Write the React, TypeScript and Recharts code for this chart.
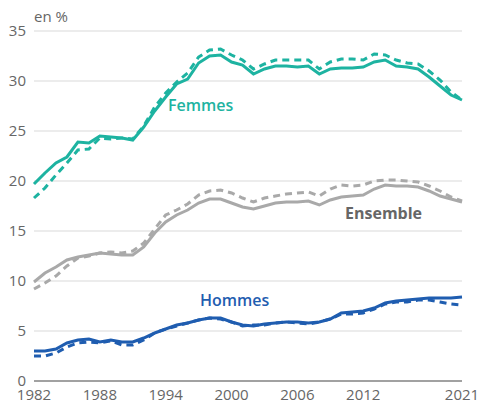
import React from "react";
import { LineChart, Line, XAxis, YAxis, CartesianGrid, Customized } from "recharts";

const years = [
  1982, 1983, 1984, 1985, 1986, 1987, 1988, 1989, 1990, 1991, 1992, 1993, 1994,
  1995, 1996, 1997, 1998, 1999, 2000, 2001, 2002, 2003, 2004, 2005, 2006, 2007,
  2008, 2009, 2010, 2011, 2012, 2013, 2014, 2015, 2016, 2017, 2018, 2019, 2020, 2021,
];

const femmesSolid = [
  19.7, 20.8, 21.8, 22.4, 23.9, 23.8, 24.5, 24.4, 24.3, 24.1, 25.4, 27.0, 28.4,
  29.7, 30.2, 31.8, 32.5, 32.6, 31.9, 31.6, 30.7, 31.2, 31.5, 31.5, 31.4, 31.5,
  30.7, 31.2, 31.3, 31.3, 31.4, 31.9, 32.1, 31.5, 31.4, 31.2, 30.4, 29.5, 28.6, 28.1,
];
const femmesDashed = [
  18.3, 19.3, 20.6, 21.8, 23.1, 23.2, 24.3, 24.2, 24.3, 24.2, 25.5, 27.4, 28.8,
  29.9, 30.8, 32.4, 33.1, 33.2, 32.6, 32.1, 31.2, 31.7, 32.1, 32.1, 32.1, 32.1,
  31.2, 31.9, 32.2, 32.2, 32.1, 32.7, 32.6, 32.1, 31.8, 31.7, 31.0, 30.1, 28.9, 28.1,
];
const ensembleSolid = [
  9.9, 10.8, 11.4, 12.1, 12.4, 12.6, 12.8, 12.7, 12.6, 12.6, 13.4, 14.8, 15.9,
  16.6, 17.1, 17.8, 18.2, 18.2, 17.8, 17.4, 17.2, 17.5, 17.8, 17.9, 17.9, 18.0,
  17.6, 18.1, 18.4, 18.5, 18.6, 19.2, 19.6, 19.5, 19.5, 19.4, 19.0, 18.5, 18.2, 17.9,
];
const ensembleDashed = [
  9.2, 9.8, 10.5, 11.5, 12.3, 12.5, 12.8, 12.9, 12.8, 13.0, 13.8, 15.2, 16.6,
  17.1, 17.7, 18.6, 19.0, 19.1, 18.8, 18.3, 17.9, 18.3, 18.5, 18.7, 18.8, 18.9,
  18.5, 19.2, 19.6, 19.5, 19.6, 20.0, 20.1, 20.1, 20.0, 19.9, 19.5, 19.0, 18.4, 18.0,
];
const hommesSolid = [
  3.0, 3.0, 3.2, 3.8, 4.1, 4.2, 3.9, 4.1, 3.9, 3.9, 4.3, 4.8, 5.2,
  5.6, 5.8, 6.1, 6.3, 6.3, 5.9, 5.6, 5.5, 5.7, 5.8, 5.9, 5.9, 5.8,
  5.9, 6.2, 6.8, 6.9, 7.0, 7.3, 7.8, 8.0, 8.1, 8.2, 8.3, 8.3, 8.3, 8.4,
];
const hommesDashed = [
  2.5, 2.5, 2.8, 3.4, 3.8, 3.9, 3.8, 4.0, 3.6, 3.6, 4.1, 4.8, 5.2,
  5.5, 5.8, 6.1, 6.3, 6.2, 5.9, 5.5, 5.6, 5.6, 5.8, 5.9, 5.8, 5.7,
  5.9, 6.2, 6.7, 6.7, 6.8, 7.2, 7.7, 7.9, 7.9, 8.1, 8.1, 7.9, 7.7, 7.6,
];

const xTicks = [1982, 1988, 1994, 2000, 2006, 2012, 2021];
const yTicks = [0, 5, 10, 15, 20, 25, 30, 35];

const data = years.map((y, i) => ({
  year: y,
  fS: femmesSolid[i],
  fD: femmesDashed[i],
  eS: ensembleSolid[i],
  eD: ensembleDashed[i],
  hS: hommesSolid[i],
  hD: hommesDashed[i],
}));

const TEAL = "#1db3a1";
const GRAY = "#a9a9a9";
const BLUE = "#1f5db0";
const FONT = "'Open Sans', sans-serif";

const Labels = () => (
  <g fontFamily={FONT}>
    <text x={34} y={16} dominantBaseline="central" fontSize={15} fill="#666">en %</text>
    <text x={168} y={105} dominantBaseline="central" fontSize={16} fontWeight={600} fill={TEAL}>Femmes</text>
    <text x={345} y={213} dominantBaseline="central" fontSize={16} fontWeight={700} fill="#666">Ensemble</text>
    <text x={200} y={300} dominantBaseline="central" fontSize={16} fontWeight={600} fill={BLUE}>Hommes</text>
  </g>
);

export default function App() {
  const lineProps = { type: "linear" as const, dot: false, activeDot: false, isAnimationActive: false, strokeWidth: 3 };
  return (
    <div style={{ position: "absolute", left: 0, top: 0, width: 480, height: 404, background: "#fff" }}>
      <LineChart width={480} height={404} data={data} margin={{ top: 31, right: 18, left: 0, bottom: 0 }}>
        <CartesianGrid vertical={false} stroke="#d9d9d9" strokeWidth={1.2} />
        <XAxis
          dataKey="year"
          type="number"
          domain={[1982, 2021]}
          ticks={xTicks}
          tickLine={false}
          tickSize={0}
          tickMargin={8}
          height={23}
          axisLine={{ stroke: "#888", strokeWidth: 1.5 }}
          tick={{ fill: "#666", fontSize: 15, fontFamily: FONT }}
          interval={0}
        />
        <YAxis
          type="number"
          domain={[0, 35]}
          ticks={yTicks}
          width={34}
          tickLine={false}
          tickSize={0}
          tickMargin={8}
          axisLine={false}
          tick={{ fill: "#666", fontSize: 15, fontFamily: FONT }}
          interval={0}
        />
        <Line dataKey="eD" stroke={GRAY} strokeDasharray="7 5" {...lineProps} />
        <Line dataKey="eS" stroke={GRAY} {...lineProps} />
        <Line dataKey="hD" stroke={BLUE} strokeDasharray="7 5" {...lineProps} />
        <Line dataKey="hS" stroke={BLUE} {...lineProps} />
        <Line dataKey="fD" stroke={TEAL} strokeDasharray="7 5" {...lineProps} />
        <Line dataKey="fS" stroke={TEAL} {...lineProps} />
        <Customized component={Labels} />
      </LineChart>
    </div>
  );
}
